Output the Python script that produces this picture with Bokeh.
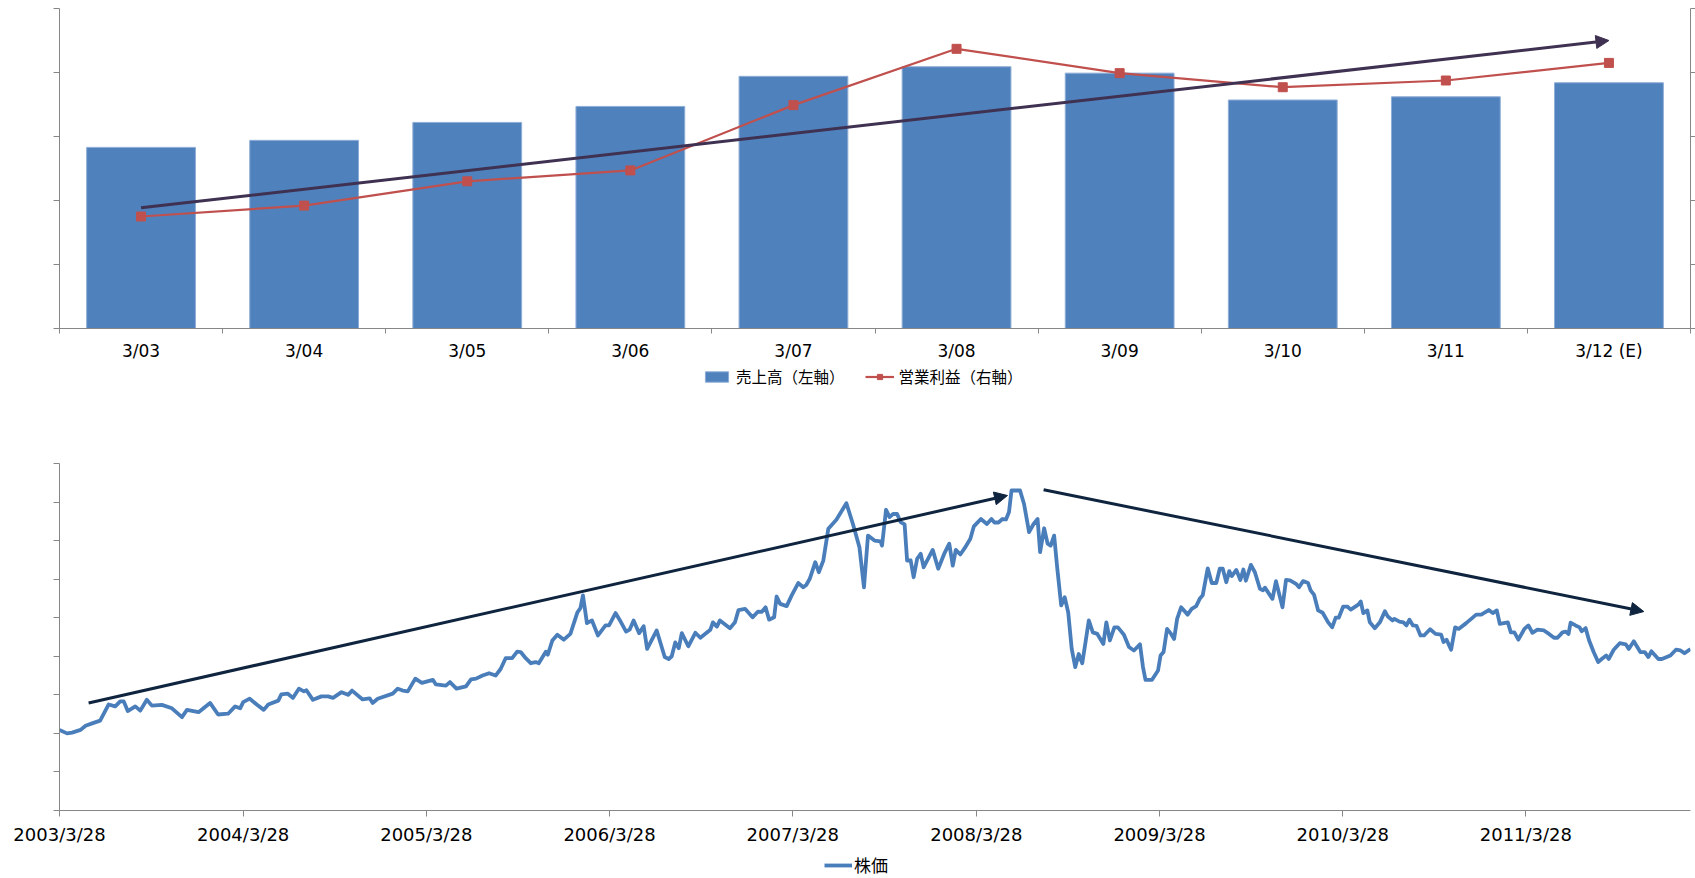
import pandas as pd
from bokeh.plotting import figure
from bokeh.layouts import column
from bokeh.models import (Range1d, LinearAxis, FixedTicker, Arrow, NormalHead,
                          Legend, LegendItem, CustomJSTickFormatter)
from bokeh.embed import file_html
from bokeh.resources import INLINE

# ---------------- data: top chart ----------------
categories = ["3/03", "3/04", "3/05", "3/06", "3/07", "3/08", "3/09", "3/10", "3/11", "3/12 (E)"]
sales = [2.83, 2.94, 3.22, 3.47, 3.94, 4.09, 3.99, 3.57, 3.62, 3.84]          # left axis
op_profit = [1.75, 1.92, 2.30, 2.47, 3.49, 4.37, 3.99, 3.77, 3.875, 4.15]     # right axis
trend_start = [0.5, 1.886]
trend_end = [9.5, 4.5]
legend_labels_top = ["売上高（左軸）", "営業利益（右軸）"]

# ---------------- data: bottom chart ----------------
start_date = "2003-03-28"
stock_days = [0, 15, 25, 42, 52, 65, 81, 98, 111, 121, 128, 136, 151, 161, 174, 184, 204, 224, 244, 254,
              277, 300, 316, 336, 350, 360, 366, 379, 393, 407, 416, 436, 442, 455, 465, 477, 487, 492, 505, 522,
              535, 545, 562, 575, 583, 604, 618, 624, 634, 664, 674,
              684, 694, 709, 722, 744, 750, 770, 778, 791, 810, 820, 830, 843, 856, 869, 879, 889, 902, 912, 919,
              929, 939, 949, 955, 969, 973, 982, 992, 1005, 1018, 1032, 1038, 1043, 1051, 1061, 1073, 1088, 1095, 1108, 1116,
              1129, 1136, 1144, 1155, 1164, 1171, 1190, 1206, 1214, 1220, 1227, 1234, 1240, 1253, 1267, 1277, 1297, 1302, 1310, 1316,
              1336, 1346, 1353, 1366, 1381, 1392, 1399, 1407, 1414, 1424, 1429, 1436, 1449, 1459, 1472, 1482, 1488, 1495, 1506, 1513,
              1522, 1532, 1548, 1568, 1581, 1594, 1603, 1611, 1624, 1636, 1639, 1647, 1654, 1661, 1669, 1676, 1684, 1689, 1696, 1702,
              1709, 1716, 1722, 1740, 1751, 1763, 1773, 1780, 1786, 1795, 1804, 1815, 1822, 1836, 1848,
              1857, 1863, 1871, 1879, 1886, 1892, 1897, 1908, 1914, 1922, 1932, 1941, 1949, 1954, 1962, 1969, 1975, 1982, 1988, 1996,
              2003, 2010, 2017, 2024, 2031, 2038, 2045, 2051, 2059, 2068, 2080, 2086, 2093, 2102, 2109, 2121, 2131, 2141, 2153, 2159,
              2164, 2177, 2189, 2194, 2200, 2207, 2215, 2221, 2227, 2235, 2248, 2256, 2265, 2272, 2278, 2288, 2296, 2305, 2312, 2318,
              2325, 2331, 2336, 2345, 2353, 2359, 2364, 2374, 2382, 2392, 2398, 2402, 2417, 2424, 2437, 2444, 2452, 2464, 2470, 2478,
              2488, 2493, 2500, 2508, 2517, 2528, 2536, 2543, 2549, 2558, 2566, 2573, 2588, 2593, 2598, 2606, 2611, 2621, 2631, 2641,
              2647, 2656, 2660, 2670, 2678, 2684, 2690, 2697, 2704, 2712, 2719, 2731, 2742, 2753, 2758, 2764, 2773, 2781, 2788, 2803,
              2823, 2833, 2848, 2856, 2864, 2870, 2886, 2892, 2899, 2907, 2919, 2927, 2935, 2945, 2958, 2968, 2978, 2985, 2995, 3001,
              3007, 3011, 3021, 3029, 3033, 3041, 3048, 3057, 3066, 3073, 3082, 3087, 3097, 3109, 3121, 3127, 3137, 3150, 3159, 3166,
              3172, 3186, 3193, 3210, 3221, 3230, 3238, 3250]
stock_price = [2.09, 2.00, 2.02, 2.09, 2.20, 2.26, 2.33, 2.75, 2.70, 2.83, 2.83, 2.58, 2.70, 2.59, 2.87, 2.72, 2.74, 2.65, 2.42, 2.61,
               2.55, 2.79, 2.49, 2.51, 2.70, 2.65, 2.81, 2.90, 2.75, 2.61, 2.75, 2.85, 3.01, 3.03, 2.92, 3.16, 3.09, 3.12, 2.87, 2.96,
               2.96, 2.92, 3.07, 3.00, 3.11, 2.88, 2.91, 2.79, 2.90, 3.03, 3.16,
               3.11, 3.09, 3.42, 3.31, 3.39, 3.27, 3.24, 3.33, 3.16, 3.22, 3.40, 3.42, 3.50, 3.56, 3.50, 3.67, 3.95, 3.95, 4.12, 4.11,
               3.95, 3.82, 3.85, 3.82, 4.12, 4.04, 4.41, 4.56, 4.43, 4.58, 5.14, 5.25, 5.58, 4.86, 4.93, 4.54, 4.80, 4.80, 5.12, 4.95,
               4.64, 4.69, 4.93, 4.60, 4.78, 4.19, 4.67, 3.98, 3.93, 4.00, 4.36, 4.21, 4.60, 4.26, 4.61, 4.48, 4.69, 4.88, 4.77, 4.93,
               4.73, 4.88, 5.20, 5.23, 5.01, 5.16, 5.15, 5.27, 4.95, 5.01, 5.55, 5.36, 5.30, 5.58, 5.90, 5.79, 5.85, 6.01, 6.44, 6.18,
               6.48, 7.31, 7.54, 7.97, 7.43, 6.83, 5.79, 7.13, 7.00, 6.98, 6.87, 7.80, 7.61, 7.69, 7.69, 7.48, 7.42, 6.48, 6.49, 6.05,
               6.53, 6.66, 6.31, 6.76, 6.27, 6.66, 6.92, 6.35, 6.76, 6.64, 6.81, 7.05, 7.37, 7.56, 7.43,
               7.56, 7.47, 7.47, 7.56, 7.55, 7.74, 8.30, 8.30, 8.30, 7.95, 7.22, 7.43, 7.56, 6.70, 7.32, 6.92, 6.87, 7.13, 6.31, 5.32,
               5.53, 5.14, 4.19, 3.72, 4.06, 3.82, 4.41, 4.93, 4.62, 4.58, 4.32, 4.88, 4.41, 4.75, 4.75, 4.56, 4.24, 4.15, 4.31, 3.72,
               3.39, 3.39, 3.63, 4.02, 4.11, 4.71, 4.58, 4.45, 4.97, 5.27, 5.08, 5.23, 5.30, 5.49, 5.58, 6.28, 5.90, 5.90, 6.27, 6.27,
               5.92, 6.21, 6.08, 6.24, 5.98, 6.25, 5.96, 6.37, 6.18, 5.75, 5.71, 5.78, 5.49, 5.95, 5.27, 5.98, 5.97, 5.88, 5.79, 5.95,
               5.90, 5.71, 5.59, 5.19, 5.13, 4.88, 4.75, 5.00, 5.00, 5.29, 5.29, 5.21, 5.34, 5.42, 5.12, 5.19, 4.88, 4.73, 4.88, 5.17,
               5.03, 4.93, 4.97, 4.90, 4.88, 4.80, 4.95, 4.80, 4.79, 4.54, 4.54, 4.70, 4.58, 4.56, 4.37, 4.43, 4.17, 4.75, 4.71, 4.86,
               5.08, 5.08, 5.20, 5.12, 5.19, 4.84, 4.88, 4.62, 4.62, 4.43, 4.71, 4.80, 4.61, 4.69, 4.67, 4.58, 4.48, 4.48, 4.62, 4.64,
               4.58, 4.87, 4.80, 4.75, 4.65, 4.73, 4.41, 4.11, 3.85, 3.93, 4.02, 3.93, 4.17, 4.34, 4.31, 4.19, 4.39, 4.11, 4.11, 3.98,
               4.13, 3.93, 3.93, 4.02, 4.17, 4.15, 4.08, 4.19]
date_tick_labels = ["2003/3/28", "2004/3/28", "2005/3/28", "2006/3/28", "2007/3/28",
                    "2008/3/28", "2009/3/28", "2010/3/28", "2011/3/28"]
axis_end_day = 3250
up_arrow = [58, 2.79, 1889, 8.17]      # start day, start value, end day, end value
down_arrow = [1961, 8.32, 3157, 5.16]
legend_label_bottom = "株価"

n = min(len(stock_days), len(stock_price))
stock_days = stock_days[:n]
stock_price = stock_price[:n]

AXIS = "#868686"
BLUE = "#4F81BD"
RED = "#C0504D"
LINEBLUE = "#4A7EBB"
W = 1695
NAN = float("nan")   # placeholder rows: legend-only renderers draw nothing in the plot area


def empty_fmt():
    return CustomJSTickFormatter(code="return '';")


def bare_fig(h):
    f = figure(width=W, height=h, output_backend="svg", toolbar_location=None,
               x_axis_type=None, y_axis_type=None, min_border=0,
               min_border_left=0, min_border_right=0, min_border_top=0, min_border_bottom=0,
               x_range=Range1d(0, 1), y_range=Range1d(0, 1))
    f.outline_line_color = None
    f.background_fill_color = "white"
    f.border_fill_color = "white"
    return f


# ================= top figure =================
xc = [i + 0.5 for i in range(len(categories))]
p1 = figure(width=W, height=364, x_range=Range1d(0, len(categories)), y_range=Range1d(0, 5),
            output_backend="svg", toolbar_location=None, x_axis_type=None, y_axis_type=None,
            min_border_left=52, min_border_right=5, min_border_top=8, min_border_bottom=36)
p1.extra_y_ranges = {"right": Range1d(0, 5)}
p1.outline_line_color = None
p1.background_fill_color = "white"
p1.border_fill_color = "white"

xax = LinearAxis(ticker=FixedTicker(ticks=xc, minor_ticks=list(range(len(categories) + 1))),
                 formatter=CustomJSTickFormatter(args=dict(cats=categories),
                                                 code="const i = Math.floor(tick); return (i >= 0 && i < cats.length) ? cats[i] : '';"),
                 major_tick_out=0, major_tick_in=0, minor_tick_out=5, minor_tick_in=0,
                 axis_line_color=AXIS, minor_tick_line_color=AXIS, major_tick_line_color=None,
                 major_label_text_font="DejaVu Sans", major_label_text_font_size="17px",
                 major_label_text_color="#000000", major_label_standoff=7)
p1.add_layout(xax, "below")

yl = LinearAxis(ticker=FixedTicker(ticks=[0, 1, 2, 3, 4, 5], minor_ticks=[]), formatter=empty_fmt(),
                major_tick_out=6, major_tick_in=0, axis_line_color=AXIS, major_tick_line_color=AXIS,
                minor_tick_line_color=None, major_label_standoff=0)
p1.add_layout(yl, "left")
yr = LinearAxis(y_range_name="right", ticker=FixedTicker(ticks=[0, 1, 2, 3, 4, 5], minor_ticks=[]),
                formatter=empty_fmt(), major_tick_out=5, major_tick_in=0, axis_line_color=AXIS,
                major_tick_line_color=AXIS, minor_tick_line_color=None, major_label_standoff=0)
p1.add_layout(yr, "right")

bar_style = dict(fill_color=BLUE, line_color="#8EADD6", line_width=1)
red_line_style = dict(line_color=RED, line_width=2.2)
red_marker_style = dict(marker="square", size=9, fill_color=RED, line_color=RED)

p1.vbar(x=xc, top=sales, width=0.667, bottom=0, **bar_style)
p1.line(x=xc, y=op_profit, y_range_name="right", **red_line_style)
p1.scatter(x=xc, y=op_profit, y_range_name="right", **red_marker_style)

TREND = "#3F3151"
p1.add_layout(Arrow(x_start=trend_start[0], y_start=trend_start[1], x_end=trend_end[0], y_end=trend_end[1],
                    line_color=TREND, line_width=3,
                    end=NormalHead(size=13, fill_color=TREND, line_color=TREND, line_width=1)))

# ---- legend strip for the top chart (renderers only carry the style) ----
lg1 = bare_fig(28)
r_bar = lg1.vbar(x=[NAN], top=[NAN], width=0.5, **bar_style)
r_line = lg1.line(x=[NAN], y=[NAN], **red_line_style)
r_mark = lg1.scatter(x=[NAN], y=[NAN], **red_marker_style)
leg1 = Legend(items=[LegendItem(label=legend_labels_top[0], renderers=[r_bar], index=0),
                     LegendItem(label=legend_labels_top[1], renderers=[r_line, r_mark], index=0)],
              orientation="horizontal", location=(643, 5), border_line_color=None,
              background_fill_alpha=0, padding=0, margin=0, spacing=20, label_standoff=5,
              glyph_width=29, glyph_height=13, label_height=20, label_text_font="Noto Sans CJK JP",
              label_text_font_size="15.5px", label_text_color="#000000")
lg1.add_layout(leg1)

# ================= bottom figure =================
start = pd.Timestamp(start_date)
dates = start + pd.to_timedelta(stock_days, unit="D")
end = start + pd.Timedelta(days=axis_end_day)


def to_ms(ts):
    return ts.value / 1e6


tick_ms = [to_ms(pd.to_datetime(s, format="%Y/%m/%d")) for s in date_tick_labels]

p2 = figure(width=W, height=456, x_range=Range1d(to_ms(start), to_ms(end)), y_range=Range1d(0, 9),
            output_backend="svg", toolbar_location=None, x_axis_type=None, y_axis_type=None,
            min_border_left=59, min_border_right=0, min_border_top=71, min_border_bottom=38)
p2.outline_line_color = None
p2.background_fill_color = "white"
p2.border_fill_color = "white"

xax2 = LinearAxis(ticker=FixedTicker(ticks=tick_ms, minor_ticks=[]),
                  formatter=CustomJSTickFormatter(args=dict(tvals=tick_ms, tlabels=date_tick_labels),
                                                  code="for (let i = 0; i < tvals.length; i++) { if (Math.abs(tvals[i] - tick) < 1000) return tlabels[i]; } return '';"),
                  major_tick_out=6, major_tick_in=0, axis_line_color=AXIS, major_tick_line_color=AXIS,
                  minor_tick_line_color=None, major_label_text_font="DejaVu Sans",
                  major_label_text_font_size="18px", major_label_text_color="#000000",
                  major_label_standoff=7)
p2.add_layout(xax2, "below")
yl2 = LinearAxis(ticker=FixedTicker(ticks=list(range(10)), minor_ticks=[]), formatter=empty_fmt(),
                 major_tick_out=6, major_tick_in=0, axis_line_color=AXIS, major_tick_line_color=AXIS,
                 minor_tick_line_color=None, major_label_standoff=0)
p2.add_layout(yl2, "left")

stock_style = dict(line_color=LINEBLUE, line_width=3.8, line_join="round")
p2.line(x=[to_ms(d) for d in dates], y=stock_price, **stock_style)

NAVY = "#0F243E"
for a in (up_arrow, down_arrow):
    p2.add_layout(Arrow(x_start=to_ms(start + pd.Timedelta(days=a[0])), y_start=a[1],
                        x_end=to_ms(start + pd.Timedelta(days=a[2])), y_end=a[3],
                        line_color=NAVY, line_width=3,
                        end=NormalHead(size=13, fill_color=NAVY, line_color=NAVY, line_width=1)))

# ---- legend strip for the bottom chart ----
lg2 = bare_fig(30)
r_stock = lg2.line(x=[NAN], y=[NAN], **stock_style)
leg2 = Legend(items=[LegendItem(label=legend_label_bottom, renderers=[r_stock], index=0)],
              orientation="horizontal", location=(765, 1), border_line_color=None,
              background_fill_alpha=0, padding=0, margin=0, label_standoff=2, glyph_width=28,
              glyph_height=14, label_height=22, label_text_font="Noto Sans CJK JP",
              label_text_font_size="17px", label_text_color="#000000")
lg2.add_layout(leg2)

layout = column(p1, lg1, p2, lg2, spacing=0)
open("out.html", "w").write(file_html(layout, INLINE))
